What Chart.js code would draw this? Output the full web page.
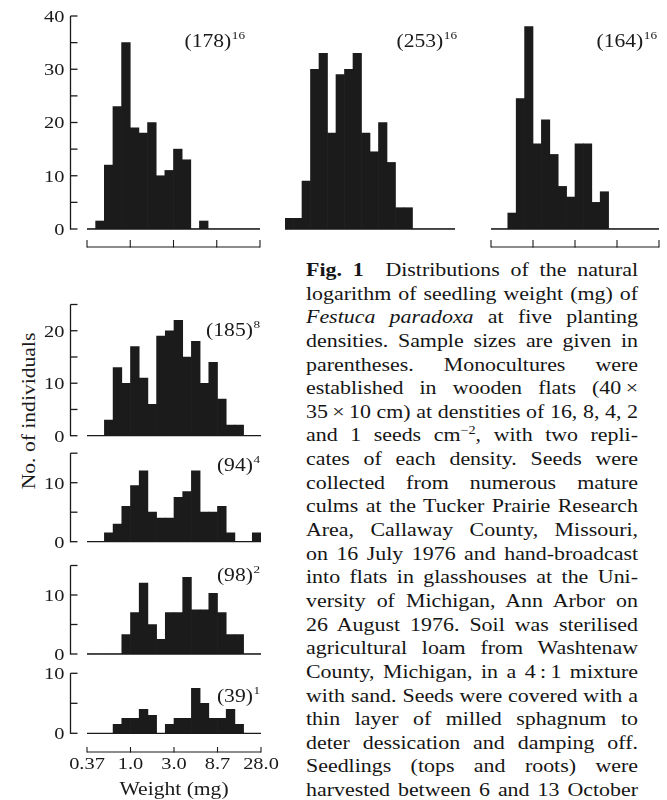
<!DOCTYPE html>
<html>
<head>
<meta charset="utf-8">
<script src="https://cdn.jsdelivr.net/npm/chart.js@4.4.0/dist/chart.umd.min.js"></script>
<style>
  body { margin: 0; background: #fff; width: 667px; height: 800px; overflow: hidden; position: relative; }
  canvas { position: absolute; }
  #ytitle {
    position: absolute; left: 29px; top: 411px; white-space: nowrap;
    font: 18px/18px "Liberation Serif", serif; color: #1a1a1a;
    transform: translate(-50%, -50%) rotate(-90deg) scaleX(1.2);
  }
  #caption {
    position: absolute; left: 306px; top: 259px;
    font: 18.5px/23.64px "Liberation Serif", serif; color: #151515;
    transform-origin: 0 0;
  }
  #caption div { text-align: justify; text-align-last: justify; white-space: nowrap; }
  #caption sup { font-size: 12px; line-height: 0; }
</style>
</head>
<body>
<div id="ytitle">No. of individuals</div>
<div id="caption"></div>
<script>
// bins of ln(weight): 5 bins per labelled tick interval, 20 bins across the axis
const weightTicks = ['0.37', '1.0', '3.0', '8.7', '28.0'];
const sampleSizes = [178, 253, 164, 185, 94, 98, 39];
const densities = [16, 16, 16, 8, 4, 2, 1];

const counts16a = [0, 1.5, 12, 23, 35, 19, 18, 20, 10, 11, 15, 13, 0, 1.5, 0, 0, 0, 0, 0, 0];
const counts16b = [2, 2, 9, 30, 33, 18, 29, 30, 33, 18, 14.5, 20, 12.5, 4, 4, 0, 0, 0, 0, 0];
const counts16c = [0, 0, 3, 24.5, 38, 16, 20.5, 14, 8, 6, 16, 16, 5, 7, 0, 0, 0, 0, 0, 0];
const counts8 = [0, 0, 3, 13, 10, 17, 11, 6, 19, 20, 22, 15, 18, 10, 14, 7, 2, 2, 0, 0];
const counts4 = [0, 0, 1.5, 3, 6, 9.5, 12, 5, 4, 4, 7.5, 8.5, 12, 5, 5, 6, 1.5, 0, 0, 1.5];
const counts2 = [0, 0, 0, 0, 3.3, 7, 12, 5, 2.5, 7, 7, 13, 7.5, 7.5, 10.3, 7, 3.3, 3.3, 0, 0];
const counts1 = [0, 0, 0, 1.5, 2.5, 2.5, 4, 3, 0, 1.5, 2.5, 2.5, 7.5, 5, 2.5, 2.5, 4, 1.5, 0, 0];

const captionLines = [
  '<b>Fig. 1</b>&ensp; Distributions of the natural',
  'logarithm of seedling weight (mg) of',
  '<i>Festuca paradoxa</i> at five planting',
  'densities. Sample sizes are given in',
  'parentheses. Monocultures were',
  'established in wooden flats (40\u2009×',
  '35\u2009×\u200910 cm) at denstities of 16, 8, 4, 2',
  'and 1 seeds cm<sup>\u22122</sup>, with two repli-',
  'cates of each density. Seeds were',
  'collected from numerous mature',
  'culms at the Tucker Prairie Research',
  'Area, Callaway County, Missouri,',
  'on 16 July 1976 and hand-broadcast',
  'into flats in glasshouses at the Uni-',
  'versity of Michigan, Ann Arbor on',
  '26 August 1976. Soil was sterilised',
  'agricultural loam from Washtenaw',
  'County, Michigan, in a 4\u2009:\u20091 mixture',
  'with sand. Seeds were covered with a',
  'thin layer of milled sphagnum to',
  'deter dessication and damping off.',
  'Seedlings (tops and roots) were',
  'harvested between 6 and 13 October'
];

const ink = '#1a1a1a';
const barColor = '#1b1b1b';
const stretch = 1.2;

// caption: justified lines, horizontally stretched like the printed face
const caption = document.getElementById('caption');
const probe = document.createElement('span');
probe.style.cssText = 'position:absolute;visibility:hidden;white-space:nowrap;font:18.5px "Liberation Serif",serif';
document.body.appendChild(probe);
let widest = 0;
captionLines.forEach(html => {
  probe.innerHTML = html;
  widest = Math.max(widest, probe.getBoundingClientRect().width);
});
probe.remove();
const capScale = Math.min(1.25, Math.max(1.1, 332 / (widest + 1)));
caption.style.width = (332 / capScale) + 'px';
caption.style.transform = 'scaleX(' + capScale + ')';
captionLines.forEach(html => {
  const d = document.createElement('div');
  d.innerHTML = html;
  caption.appendChild(d);
});

function wideText(ctx, str, x, y, align, size) {
  ctx.save();
  ctx.font = size + 'px "Liberation Serif", serif';
  ctx.textAlign = align;
  ctx.textBaseline = 'alphabetic';
  ctx.translate(x, y);
  ctx.scale(stretch, 1);
  ctx.fillText(str, 0, 0);
  ctx.restore();
}

function seg(ctx, x1, y1, x2, y2) {
  ctx.beginPath();
  ctx.moveTo(x1, y1);
  ctx.lineTo(x2, y2);
  ctx.stroke();
}

// axes drawn the way the printed figure has them: inward ticks, bracket x axis
const figAxes = {
  id: 'figAxes',
  afterDraw(chart, args, opts) {
    const { ctx, chartArea: a, scales: { x, y } } = chart;
    const y0 = y.getPixelForValue(0);
    ctx.save();
    ctx.strokeStyle = ink;
    ctx.fillStyle = ink;
    ctx.lineWidth = 1.3;
    seg(ctx, a.left, y0, a.right, y0);

    if (opts.yAxis) {
      const ax = Math.round(a.left - 17) + 0.5;
      seg(ctx, ax, y.getPixelForValue(y.max), ax, y0 + 0.6);
      y.ticks.forEach(t => {
        const py = y.getPixelForValue(t.value);
        seg(ctx, ax, py, ax + 7, py);
        if (t.value % 10 === 0) wideText(ctx, String(t.value), ax - 6, py + 5.8, 'right', 17);
      });
    }

    if (opts.bracket) {
      const by = y0 + opts.bracket;
      ctx.lineWidth = 1.1;
      seg(ctx, a.left, by, a.right, by);
      x.ticks.forEach((t, i) => {
        const px = x.getPixelForValue(t.value);
        seg(ctx, px, by + 0.5, px, by - opts.tickUp);
        if (opts.xLabels) wideText(ctx, weightTicks[i], px, by + 17, 'center', 17);
      });
      if (opts.xTitle) wideText(ctx, opts.xTitle, (a.left + a.right) / 2, by + 43, 'center', 18);
    }

    if (opts.label) {
      const rx = a.right + opts.labelAt[0];
      const base = a.top + opts.labelAt[1];
      const sup = String(opts.label[1]);
      ctx.font = '11px "Liberation Serif", serif';
      const supW = ctx.measureText(sup).width * stretch;
      wideText(ctx, sup, rx, base - 8, 'right', 11);
      wideText(ctx, '(' + opts.label[0] + ')', rx - supW - 0.5, base, 'right', 18);
    }
    ctx.restore();
  }
};

const panels = [
  { data: counts16a, ymax: 40, box: [0, 0, 265, 260], pad: { left: 87, right: 5, top: 16, bottom: 31 },
    yAxis: true, bracket: 18, tickUp: 7, labelAt: [-15, 31] },
  { data: counts16b, ymax: 40, box: [265, 0, 200, 260], pad: { left: 20, right: 10, top: 16, bottom: 31 },
    yAxis: false, bracket: 0, labelAt: [2, 31] },
  { data: counts16c, ymax: 40, box: [465, 0, 202, 260], pad: { left: 26, right: 8, top: 16, bottom: 31 },
    yAxis: false, bracket: 18, tickUp: 7, labelAt: [-2, 31] },
  { data: counts8, ymax: 25, box: [0, 290, 270, 160], pad: { left: 87, right: 9, top: 14.5, bottom: 14.3 },
    yAxis: true, bracket: 0, labelAt: [-1, 31.5] },
  { data: counts4, ymax: 15, box: [0, 445, 270, 105], pad: { left: 87, right: 9, top: 8.2, bottom: 8.3 },
    yAxis: true, bracket: 0, labelAt: [-1, 17.8] },
  { data: counts2, ymax: 15, box: [0, 555, 270, 105], pad: { left: 87, right: 9, top: 10.5, bottom: 6 },
    yAxis: true, bracket: 0, labelAt: [-1, 15.5] },
  { data: counts1, ymax: 10, box: [0, 662, 295, 138], pad: { left: 87, right: 34, top: 11.3, bottom: 66.7 },
    yAxis: true, bracket: 18.7, tickUp: 5, xLabels: true, xTitle: 'Weight (mg)', labelAt: [-1, 28.7] }
];

panels.forEach((p, idx) => {
  const cv = document.createElement('canvas');
  const [left, top, w, h] = p.box;
  cv.width = w;
  cv.height = h;
  cv.style.left = left + 'px';
  cv.style.top = top + 'px';
  document.body.appendChild(cv);

  new Chart(cv.getContext('2d'), {
    type: 'bar',
    data: {
      datasets: [{
        data: p.data.map((v, i) => ({ x: i + 0.5, y: v })),
        backgroundColor: barColor,
        borderWidth: 0,
        barPercentage: 1,
        categoryPercentage: 1
      }]
    },
    options: {
      responsive: false,
      animation: false,
      layout: { padding: p.pad },
      plugins: {
        legend: { display: false },
        tooltip: { enabled: false },
        figAxes: {
          yAxis: p.yAxis,
          bracket: p.bracket,
          tickUp: p.tickUp,
          xLabels: p.xLabels,
          xTitle: p.xTitle,
          label: [sampleSizes[idx], densities[idx]],
          labelAt: p.labelAt
        }
      },
      scales: {
        x: { type: 'linear', min: 0, max: weightTicks.length * 5 - 5, offset: false, display: false,
             ticks: { stepSize: 5 } },
        y: { min: 0, max: p.ymax, display: false, ticks: { stepSize: 5 } }
      }
    },
    plugins: [figAxes]
  });
});
</script>
</body>
</html>
